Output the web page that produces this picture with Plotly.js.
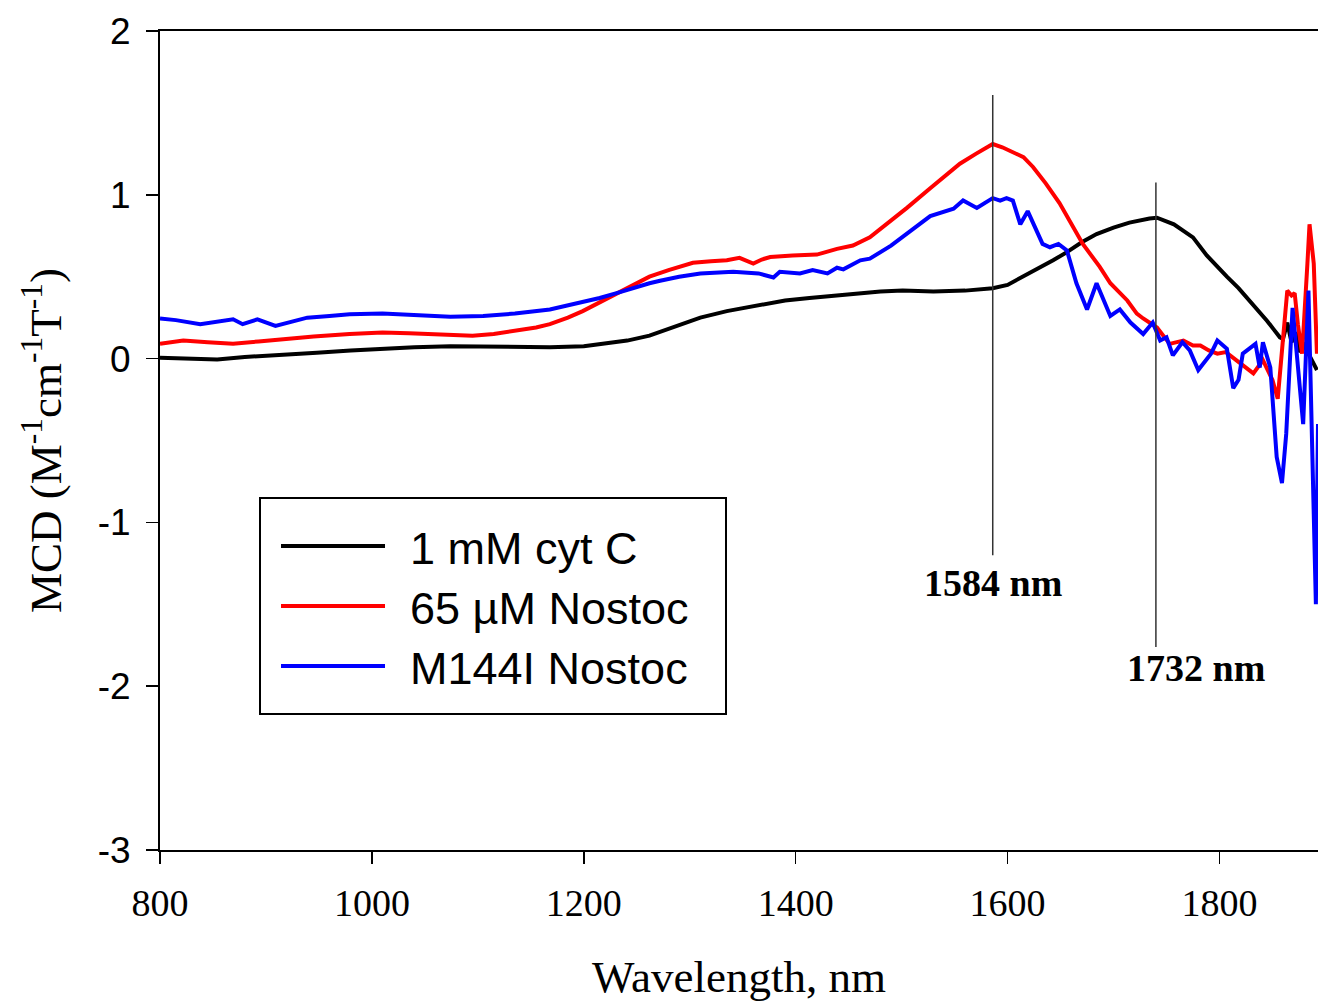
<!DOCTYPE html>
<html>
<head>
<meta charset="utf-8">
<script src="https://cdn.plot.ly/plotly-3.0.1.min.js"></script>
<style>html,body{margin:0;padding:0;background:#fff;}#chart{width:1318px;height:1002px;}</style>
</head>
<body>
<div id="chart"></div>
<script>
// ---- Data ----
const seriesNames = ["1 mM cyt C", "65 \u00B5M Nostoc", "M144I Nostoc"];
const seriesColors = ["#000000", "#ff0000", "#0000ff"];

const cytcWl = [800,830,854,880,910,948,980,1010,1040,1074,1120,1168,1200,1215,1241,1262,1288,1310,1335,1366,1390,1413,1440,1461,1480,1501,1530,1560,1586,1600,1612,1625,1643,1656,1670,1684,1700,1715,1725,1734,1741,1750,1757,1766,1775,1788,1798,1807,1818,1829,1838,1845,1851,1857,1860,1864,1868,1872,1876,1880,1884,1888,1892];
const cytcMcd = [0.005,0.0,-0.005,0.01,0.02,0.035,0.05,0.06,0.07,0.075,0.072,0.07,0.075,0.09,0.11,0.14,0.20,0.25,0.29,0.33,0.355,0.37,0.385,0.40,0.41,0.415,0.41,0.415,0.43,0.45,0.49,0.54,0.60,0.65,0.71,0.76,0.80,0.83,0.845,0.855,0.86,0.84,0.82,0.78,0.74,0.63,0.56,0.50,0.43,0.35,0.28,0.23,0.18,0.13,0.12,0.22,0.10,0.16,0.04,0.08,0.03,-0.02,-0.07];

const nostocWl = [800,822,845,869,893,916,945,979,1010,1035,1058,1080,1095,1115,1137,1155,1168,1185,1199,1215,1231,1247,1262,1280,1303,1320,1335,1347,1355,1360,1368,1376,1397,1420,1439,1454,1470,1486,1505,1527,1540,1555,1570,1586,1595,1605,1615,1624,1636,1649,1660,1671,1687,1697,1713,1722,1728,1734,1741,1753,1766,1775,1782,1790,1798,1806,1813,1822,1832,1841,1850,1855,1859,1864,1868,1871,1874,1878,1883,1885,1889,1892];
const nostocMcd = [0.09,0.11,0.10,0.09,0.105,0.12,0.135,0.15,0.16,0.155,0.15,0.145,0.14,0.15,0.17,0.19,0.21,0.25,0.29,0.345,0.40,0.455,0.50,0.54,0.585,0.595,0.60,0.615,0.59,0.58,0.605,0.62,0.63,0.635,0.67,0.69,0.74,0.82,0.92,1.04,1.11,1.19,1.25,1.31,1.29,1.26,1.23,1.17,1.07,0.95,0.83,0.70,0.56,0.46,0.355,0.275,0.245,0.22,0.19,0.09,0.11,0.08,0.08,0.05,0.03,0.04,0.005,-0.04,-0.09,-0.01,-0.13,-0.245,0.07,0.415,0.385,0.40,0.21,0.03,0.58,0.82,0.58,0.03];

const m144iWl = [800,815,838,855,869,878,892,909,925,939,960,979,1010,1040,1074,1105,1135,1168,1190,1215,1231,1246,1262,1272,1290,1310,1341,1365,1379,1385,1404,1416,1430,1439,1445,1461,1470,1490,1505,1527,1549,1558,1571,1586,1593,1599,1605,1612,1619,1633,1640,1648,1656,1665,1675,1684,1697,1706,1716,1728,1737,1744,1750,1756,1765,1772,1780,1792,1798,1807,1813,1818,1822,1834,1838,1841,1848,1852,1854,1859,1863,1869,1874,1879,1884,1887,1889,1891,1893];
const m144iMcd = [0.245,0.235,0.21,0.225,0.24,0.21,0.24,0.20,0.225,0.25,0.26,0.27,0.275,0.265,0.255,0.26,0.275,0.30,0.33,0.37,0.40,0.43,0.46,0.475,0.50,0.52,0.53,0.52,0.495,0.53,0.52,0.54,0.52,0.555,0.545,0.60,0.61,0.69,0.76,0.87,0.915,0.965,0.92,0.98,0.965,0.98,0.965,0.82,0.90,0.70,0.68,0.70,0.66,0.46,0.30,0.46,0.26,0.30,0.22,0.15,0.22,0.11,0.13,0.02,0.10,0.05,-0.07,0.03,0.11,0.06,-0.18,-0.13,0.03,0.09,-0.055,0.10,-0.055,-0.40,-0.60,-0.76,-0.46,0.31,-0.055,-0.40,0.415,-0.30,-0.95,-1.50,-0.40];

// Marker lines and labels
const markerWl = [1586, 1740];
const markerTop = [1.61, 1.075];
const markerBottom = [-1.20, -1.76];
const markerLabels = ["1584 nm", "1732 nm"];
const markerLabelX = [1586, 1778];
const markerLabelY = [-1.37, -1.89];

const xTicks = [800,1000,1200,1400,1600,1800];
const yTicks = [-3,-2,-1,0,1,2];

const serif = "'Liberation Serif', 'Times New Roman', serif";
const sans = "'Liberation Sans', Arial, sans-serif";

const xs = [cytcWl, nostocWl, m144iWl];
const ys = [cytcMcd, nostocMcd, m144iMcd];
const traces = xs.map((x, i) => ({
  type: 'scatter', mode: 'lines', x: x, y: ys[i], name: seriesNames[i],
  line: {color: seriesColors[i], width: 4}
}));

const shapes = markerWl.map((w, i) => ({
  type: 'line', xref: 'x', yref: 'y', x0: w, x1: w, y0: markerBottom[i], y1: markerTop[i],
  line: {color: '#333333', width: 1.5}
}));
const annotations = markerLabels.map((t, i) => ({
  xref: 'x', yref: 'y', x: markerLabelX[i], y: markerLabelY[i], text: '<b>' + t + '</b>',
  showarrow: false, font: {family: serif, size: 38, color: '#000'}
}));

const layout = {
  width: 1318, height: 1002,
  margin: {l: 160, r: 0, t: 31, b: 152},
  paper_bgcolor: '#fff', plot_bgcolor: '#fff',
  showlegend: true,
  legend: {
    x: 0.0855, y: 0.431, xanchor: 'left', yanchor: 'top',
    bgcolor: '#fff', bordercolor: '#000', borderwidth: 1.5,
    font: {family: sans, size: 45, color: '#000'},
    itemwidth: 104
  },
  xaxis: {
    range: [800, 1893], tickvals: xTicks, ticktext: xTicks.map(String),
    showgrid: false, zeroline: false, showline: true, linecolor: '#000', linewidth: 2,
    mirror: true, ticks: 'outside', ticklen: 12, tickwidth: 1.5, tickcolor: '#000',
    ticklabelstandoff: 6,
    tickfont: {family: serif, size: 38, color: '#000'},
    title: {text: 'Wavelength, nm', font: {family: serif, size: 45, color: '#000'}, standoff: 42}
  },
  yaxis: {
    range: [-3, 2], tickvals: yTicks, ticktext: yTicks.map(String),
    showgrid: false, zeroline: false, showline: true, linecolor: '#000', linewidth: 2,
    mirror: false, ticks: 'outside', ticklen: 12, tickwidth: 1.5, tickcolor: '#000',
    ticklabelstandoff: 8,
    tickfont: {family: sans, size: 37, color: '#000'},
    title: {text: 'MCD (M<sup>-1</sup>cm<sup>-1</sup>T<sup>-1</sup>)', font: {family: serif, size: 45, color: '#000'}, standoff: 22}
  },
  shapes: shapes,
  annotations: annotations
};

Plotly.newPlot('chart', traces, layout, {displayModeBar: false, staticPlot: true}).then(gd => {
  // widen legend box and sample lines to match the reference layout
  const leg = gd.querySelector('g.legend');
  if (!leg) return;
  const W = 466, H = 216;
  const bg = leg.querySelector('rect.bg');
  if (bg) { bg.setAttribute('width', W); bg.setAttribute('height', H); }
  document.querySelectorAll('clipPath[id^="legend"] rect').forEach(r => {
    r.setAttribute('width', W); r.setAttribute('height', H);
  });
  leg.querySelectorAll('g.traces').forEach((g, i) => {
    g.setAttribute('transform', 'translate(0,' + (49 + i * 60) + ')');
    g.querySelectorAll('path.js-line').forEach(p => p.setAttribute('d', 'M22,0h104'));
    const t = g.querySelector('text.legendtext');
    if (t) t.setAttribute('x', 151);
  });
});
</script>
</body>
</html>
